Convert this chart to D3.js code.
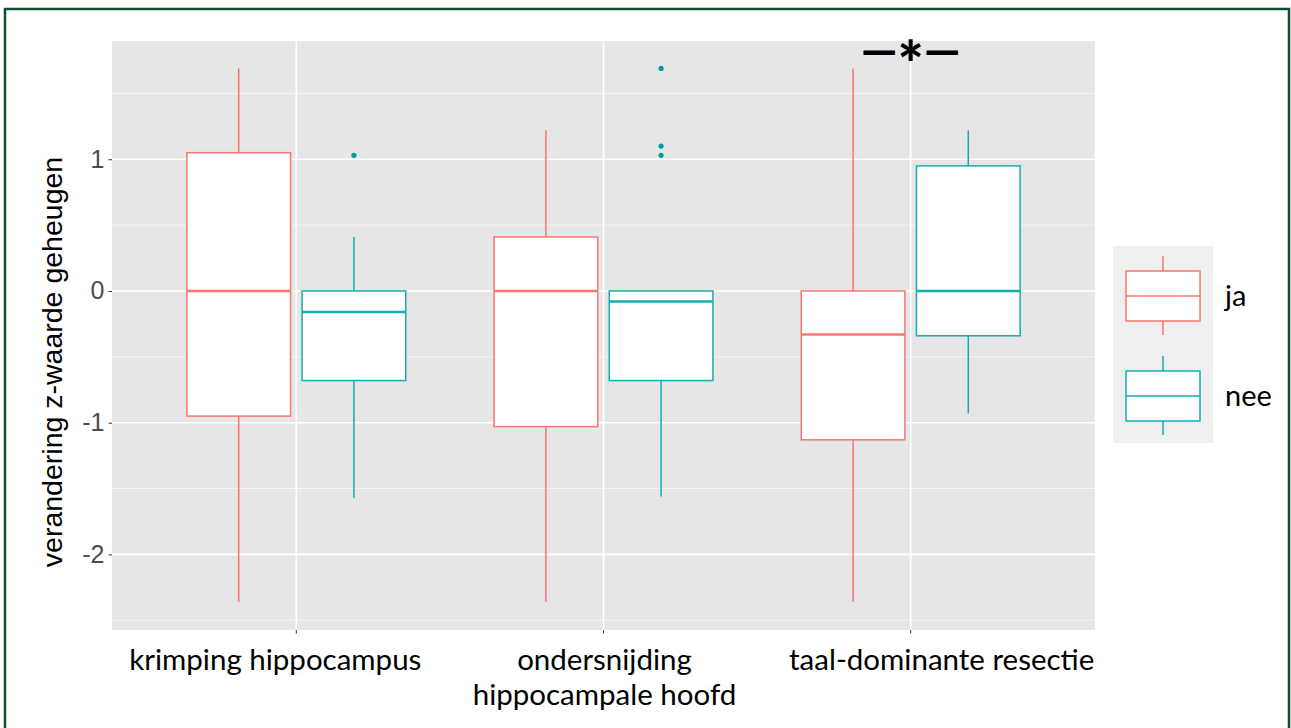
<!DOCTYPE html>
<html>
<head>
<meta charset="utf-8">
<script src="https://cdn.jsdelivr.net/npm/d3@7"></script>
<style>
    body { margin: 0; background: #fff; }
    svg { display: block; }
</style>
</head>
<body>
<div id="chart"></div>
<script>
// categories on the x axis and the two groups
const categories = ["krimping hippocampus", "ondersnijding hippocampale hoofd", "taal-dominante resectie"];
const categoryLines = [["krimping hippocampus"], ["ondersnijding", "hippocampale hoofd"], ["taal-dominante resectie"]];
const groups = ["ja", "nee"];

// one entry per box (category, group)
const boxCategory = [0, 0, 1, 1, 2, 2];
const boxGroup = ["ja", "nee", "ja", "nee", "ja", "nee"];
const whiskerLow = [-2.36, -1.57, -2.36, -1.56, -2.36, -0.93];
const q1 = [-0.95, -0.68, -1.03, -0.68, -1.13, -0.34];
const median = [0.0, -0.16, 0.0, -0.08, -0.33, 0.0];
const q3 = [1.05, 0.0, 0.41, 0.0, 0.0, 0.95];
const whiskerHigh = [1.69, 0.41, 1.22, 0.0, 1.69, 1.22];
const outliers = [[], [1.03], [], [1.69, 1.10, 1.03], [], []];

const yTicks = [-2, -1, 0, 1];
const yMinor = [-2.5, -1.5, -0.5, 0.5, 1.5];
const yDomain = [-2.574, 1.898];

const colors = { ja: "#F8766D", nee: "#13AEB1" };

render();

function render() {
    const width = 1291, height = 728;
    const panel = { left: 112, right: 1095, top: 41, bottom: 630 };

    const svg = d3.select('#chart').append('svg')
        .attr('width', width)
        .attr('height', height);

    // outer frame
    svg.append('rect')
        .attr('x', 5).attr('y', 9)
        .attr('width', 1284).attr('height', 740)
        .attr('fill', 'none')
        .attr('stroke', '#0E4F2C')
        .attr('stroke-width', 2.5);

    const x = d3.scaleBand()
        .domain(categories)
        .range([panel.left, panel.right])
        .paddingInner(0)
        .paddingOuter(0.1);

    const step = x.step();
    const xg = d3.scaleBand()
        .domain(groups)
        .range([-0.375 * step, 0.375 * step]);

    const y = d3.scaleLinear()
        .domain(yDomain)
        .range([panel.bottom, panel.top]);

    const centre = c => x(categories[c]) + x.bandwidth() / 2;

    // panel background
    svg.append('rect')
        .attr('x', panel.left).attr('y', panel.top)
        .attr('width', panel.right - panel.left)
        .attr('height', panel.bottom - panel.top)
        .attr('fill', '#E6E6E6');

    // grid
    svg.append('g').selectAll('line')
        .data(yMinor)
        .join('line')
        .attr('x1', panel.left).attr('x2', panel.right)
        .attr('y1', d => y(d)).attr('y2', d => y(d))
        .attr('stroke', '#F7F7F7')
        .attr('stroke-width', 0.9);

    svg.append('g').selectAll('line')
        .data(yTicks)
        .join('line')
        .attr('x1', panel.left).attr('x2', panel.right)
        .attr('y1', d => y(d)).attr('y2', d => y(d))
        .attr('stroke', '#fff')
        .attr('stroke-width', 1.6);

    svg.append('g').selectAll('line')
        .data(categories)
        .join('line')
        .attr('x1', d => x(d) + x.bandwidth() / 2).attr('x2', d => x(d) + x.bandwidth() / 2)
        .attr('y1', panel.top).attr('y2', panel.bottom)
        .attr('stroke', '#fff')
        .attr('stroke-width', 1.6);

    // y axis
    const yAxis = svg.append('g')
        .attr('transform', `translate(${panel.left},0)`)
        .call(d3.axisLeft(y).tickValues(yTicks).tickSize(3.5).tickPadding(4).tickFormat(d => String(d)));
    yAxis.select('.domain').remove();
    yAxis.selectAll('line').attr('stroke', '#333').attr('stroke-width', 1);
    yAxis.selectAll('text')
        .attr('fill', '#4D4D4D')
        .style('font-family', 'Liberation Sans, Arial, sans-serif')
        .style('font-size', '25px');

    // x axis ticks
    const xAxis = svg.append('g')
        .attr('transform', `translate(0,${panel.bottom})`)
        .call(d3.axisBottom(x).tickSize(3.5).tickFormat(''));
    xAxis.select('.domain').remove();
    xAxis.selectAll('line').attr('stroke', '#333').attr('stroke-width', 1);

    // x labels (placed as in the original figure)
    const labelShift = [-21, 1, 31];
    const xl = svg.append('g').selectAll('text')
        .data(categoryLines)
        .join('text')
        .attr('text-anchor', 'middle')
        .attr('fill', '#000')
        .style('font-family', 'Lato, "Open Sans", sans-serif')
        .style('font-size', '29.5px');
    xl.selectAll('tspan')
        .data((d, i) => d.map(t => ({ t, i })))
        .join('tspan')
        .attr('x', d => centre(d.i) + labelShift[d.i])
        .attr('y', (d, j) => 670 + j * 35)
        .text(d => d.t);

    // y title
    svg.append('text')
        .attr('transform', 'translate(62,362) rotate(-90)')
        .attr('text-anchor', 'middle')
        .attr('fill', '#000')
        .style('font-family', 'Liberation Sans, Arial, sans-serif')
        .style('font-size', '28.5px')
        .text('verandering z-waarde geheugen');

    // boxes
    const boxes = d3.range(boxCategory.length).map(i => ({
        i,
        cx: centre(boxCategory[i]) + xg(boxGroup[i]) + xg.bandwidth() / 2,
        w: xg.bandwidth() * 0.9,
        color: colors[boxGroup[i]]
    }));

    const bg = svg.append('g').selectAll('g')
        .data(boxes)
        .join('g');

    bg.append('line')
        .attr('x1', d => d.cx).attr('x2', d => d.cx)
        .attr('y1', d => y(q3[d.i])).attr('y2', d => y(whiskerHigh[d.i]))
        .attr('stroke', d => d.color).attr('stroke-width', 1.5);

    bg.append('line')
        .attr('x1', d => d.cx).attr('x2', d => d.cx)
        .attr('y1', d => y(q1[d.i])).attr('y2', d => y(whiskerLow[d.i]))
        .attr('stroke', d => d.color).attr('stroke-width', 1.5);

    bg.append('rect')
        .attr('x', d => d.cx - d.w / 2)
        .attr('y', d => y(q3[d.i]))
        .attr('width', d => d.w)
        .attr('height', d => y(q1[d.i]) - y(q3[d.i]))
        .attr('fill', '#fff')
        .attr('stroke', d => d.color).attr('stroke-width', 1.5);

    bg.append('line')
        .attr('x1', d => d.cx - d.w / 2).attr('x2', d => d.cx + d.w / 2)
        .attr('y1', d => y(median[d.i])).attr('y2', d => y(median[d.i]))
        .attr('stroke', d => d.color).attr('stroke-width', 2.4);

    bg.selectAll('circle')
        .data(d => outliers[d.i].map(v => ({ v, cx: d.cx, color: d.color })))
        .join('circle')
        .attr('cx', d => d.cx).attr('cy', d => y(d.v))
        .attr('r', 2.6)
        .attr('fill', '#009C9F');

    // significance mark
    const sig = svg.append('text')
        .attr('x', centre(2)).attr('y', 67)
        .attr('text-anchor', 'middle')
        .attr('fill', '#000')
        .style('font-family', 'Lato, sans-serif')
        .style('font-weight', 900)
        .style('font-size', '46px');
    sig.append('tspan').text('—');
    sig.append('tspan').attr('dy', 20).style('font-size', '62px').text('*');
    sig.append('tspan').attr('dy', -20).text('—');

    // legend
    const legend = svg.append('g').attr('transform', 'translate(1113,246)');
    legend.append('rect')
        .attr('width', 100).attr('height', 197)
        .attr('fill', '#EFEFEF');

    const items = legend.selectAll('g')
        .data(groups)
        .join('g')
        .attr('transform', (d, i) => `translate(0,${i * 100})`);

    items.append('line')
        .attr('x1', 50).attr('x2', 50).attr('y1', 10).attr('y2', 89)
        .attr('stroke', d => colors[d]).attr('stroke-width', 1.5);
    items.append('rect')
        .attr('x', 13).attr('y', 25).attr('width', 74).attr('height', 50)
        .attr('fill', '#fff')
        .attr('stroke', d => colors[d]).attr('stroke-width', 1.5);
    items.append('line')
        .attr('x1', 13).attr('x2', 87).attr('y1', 50).attr('y2', 50)
        .attr('stroke', d => colors[d]).attr('stroke-width', 1.5);
    items.append('text')
        .attr('x', 112).attr('y', 60)
        .attr('fill', '#000')
        .style('font-family', 'Lato, "Open Sans", sans-serif')
        .style('font-size', '29px')
        .text(d => d);
}
</script>
</body>
</html>
